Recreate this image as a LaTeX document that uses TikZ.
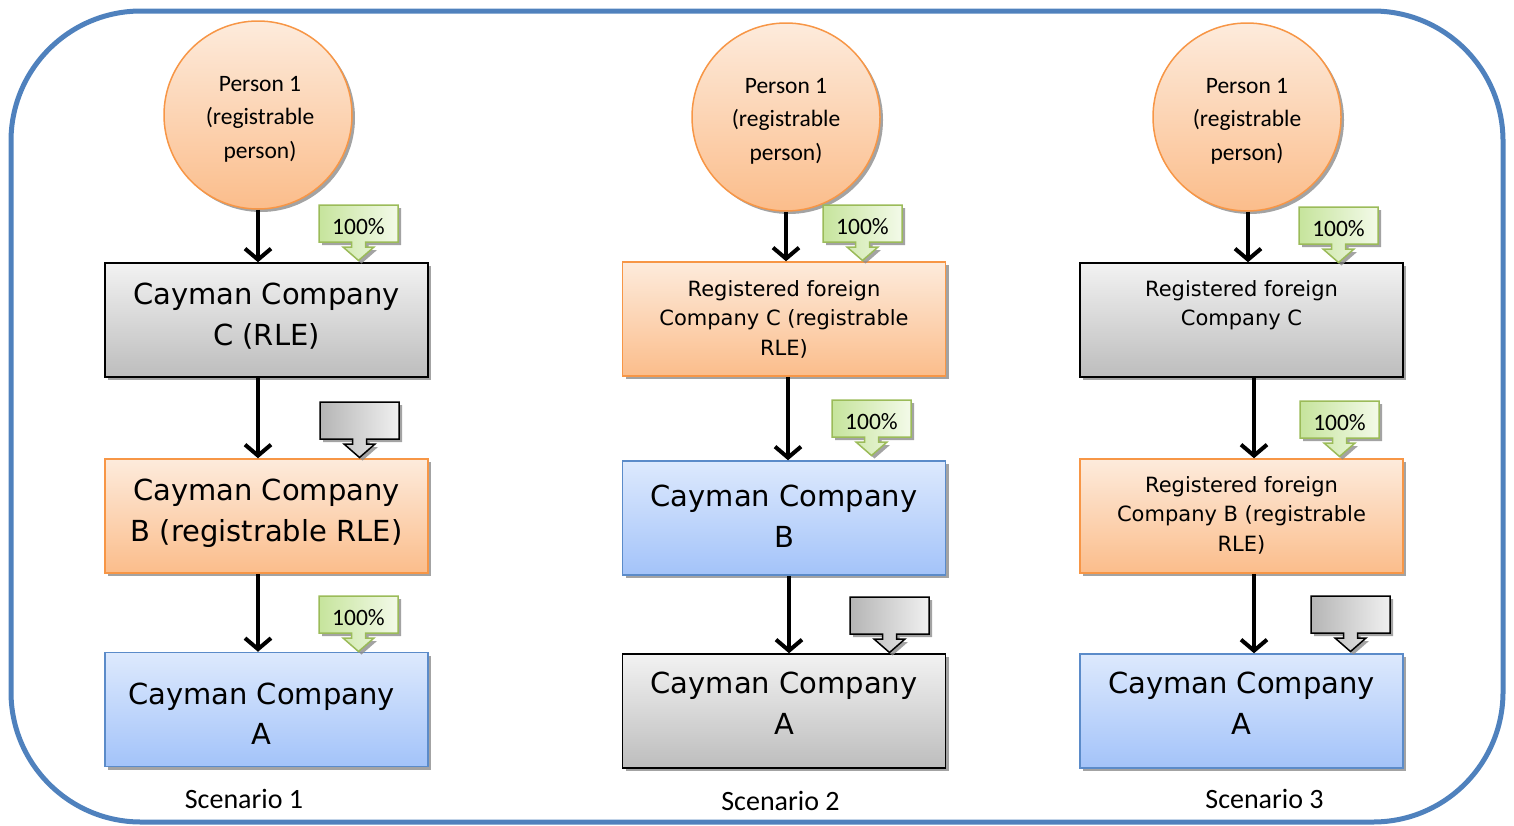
\documentclass[tikz,border=0pt]{standalone}
\usepackage{fontspec}
\setmainfont{Carlito}
\newfontfamily\boxfont{DejaVu Sans}
\usetikzlibrary{shadows,arrows.meta}
\definecolor{outerblue}{HTML}{4F81BD}
\definecolor{orBorder}{HTML}{F79646}
\definecolor{orTop}{HTML}{FDEBDC}
\definecolor{orBot}{HTML}{FBBD8B}
\definecolor{blBorder}{HTML}{5B8BC9}
\definecolor{blTop}{HTML}{DDE9FD}
\definecolor{blBot}{HTML}{A3C3F9}
\definecolor{grayTop}{HTML}{F2F2F2}
\definecolor{grayBot}{HTML}{BDBDBD}
\definecolor{grBorder}{HTML}{9BBB59}
\definecolor{grLeft}{HTML}{C6E49C}
\definecolor{grRight}{HTML}{F3FAE9}
\definecolor{gcLeft}{HTML}{B5B5B5}
\definecolor{gcRight}{HTML}{F0F0F0}
\tikzset{
 shd/.style={drop shadow={shadow xshift=3pt, shadow yshift=-3pt, fill=black!45, opacity=0.8}},
 company/.style={rectangle, minimum width=323pt, minimum height=114pt, inner sep=0pt, line width=1.5pt, shd},
 graybox/.style={company, draw=black, top color=grayTop, bottom color=grayBot},
 orangebox/.style={company, draw=orBorder, top color=orTop, bottom color=orBot},
 bluebox/.style={company, draw=blBorder, top color=blTop, bottom color=blBot},
 person/.style={circle, minimum size=188pt, inner sep=0pt, draw=orBorder, line width=1.5pt, top color=orTop, bottom color=orBot, shd},
 persontext/.style={inner sep=0pt, align=center, font=\fontsize{23.5}{33.5}\selectfont},
 bigtext/.style={inner sep=0pt, anchor=north, align=center, font=\boxfont\fontsize{29}{40.5}\selectfont},
 smalltext/.style={inner sep=0pt, anchor=north, align=center, font=\boxfont\fontsize{21}{29.5}\selectfont},
 conn/.style={line width=4pt, -{Straight Barb[length=11pt,width=26pt]}},
 greencall/.style={draw=grBorder, line width=1.5pt, left color=grLeft, right color=grRight, shd},
 graycall/.style={draw=black, line width=1.5pt, left color=gcLeft, right color=gcRight, shd},
 calltext/.style={font=\fontsize{23.5}{28}\selectfont, inner sep=0pt},
 scen/.style={font=\fontsize{28}{34}\selectfont, inner sep=0pt},
}
\newcommand\callout[5]{%
 \begin{scope}[shift={(#1,#2)}]
  \draw[#3] (0,0) -- (79,0) -- (79,37) -- (46.5,37) -- (46.5,42) -- (55,42) -- (39.5,55.5) -- (24,42) -- (32.5,42) -- (32.5,37) -- (0,37) -- cycle;
  \node[calltext] (#5) at (39.5,21.5) {#4};
 \end{scope}}
\begin{document}
\begin{tikzpicture}[x=1pt,y=-1pt]
\useasboundingbox (0,0) rectangle (1514,825);
\draw[line width=5pt, outerblue, rounded corners=130pt] (11,11) rectangle (1503,822);

% Scenario 1
\node[person] (P1) at (258,115) {};
\node[persontext] (tP1) at (260,119) {Person 1\\(registrable\\person)};
\node[graybox] (C1) at (266.5,320) {};
\node[orangebox] (B1) at (266.5,516) {};
\node[bluebox] (A1) at (266.5,709.5) {};
\node[bigtext, yshift=-21pt] (tC1) at (C1.north) {Cayman Company\\C (RLE)};
\node[bigtext, yshift=-21pt] (tB1) at (B1.north) {Cayman Company\\B (registrable RLE)};
\node[bigtext, yshift=-31pt, xshift=-5pt] (tA1) at (A1.north) {Cayman Company\\A};
\draw[conn] (P1.south) -- (P1.south |- C1.north);
\draw[conn] (C1.south -| P1) -- (B1.north -| P1);
\draw[conn] (B1.south -| P1) -- (A1.north -| P1);
\callout{319}{205}{greencall}{100\%}{k1a}
\callout{320}{402}{graycall}{}{k1b}
\callout{319}{596}{greencall}{100\%}{k1c}
\node[scen] (s1) at (244,799) {Scenario 1};

% Scenario 2
\node[person] (P2) at (786,117) {};
\node[persontext] (tP2) at (786,121) {Person 1\\(registrable\\person)};
\node[orangebox] (C2) at (784,319) {};
\node[bluebox] (B2) at (784,518) {};
\node[graybox] (A2) at (784,711) {};
\node[smalltext, yshift=-19pt] (tC2) at (C2.north) {Registered foreign\\Company C (registrable\\RLE)};
\node[bigtext, yshift=-25pt] (tB2) at (B2.north) {Cayman Company\\B};
\node[bigtext, yshift=-19pt] (tA2) at (A2.north) {Cayman Company\\A};
\draw[conn] (P2.south) -- (P2.south |- C2.north);
\draw[conn] ([xshift=2pt]C2.south -| P2) -- ([xshift=2pt]B2.north -| P2);
\draw[conn] ([xshift=3pt]B2.south -| P2) -- ([xshift=3pt]A2.north -| P2);
\callout{823}{205}{greencall}{100\%}{k2a}
\callout{832}{400}{greencall}{100\%}{k2b}
\callout{850}{597}{graycall}{}{k2c}
\node[scen] (s2) at (780.5,801) {Scenario 2};

% Scenario 3
\node[person] (P3) at (1247,117) {};
\node[persontext] (tP3) at (1247,121) {Person 1\\(registrable\\person)};
\node[graybox] (C3) at (1241.5,320) {};
\node[orangebox] (B3) at (1241.5,516) {};
\node[bluebox] (A3) at (1241.5,711) {};
\node[smalltext, yshift=-18pt] (tC3) at (C3.north) {Registered foreign\\Company C};
\node[smalltext, yshift=-18pt] (tB3) at (B3.north) {Registered foreign\\Company B (registrable\\RLE)};
\node[bigtext, yshift=-19pt] (tA3) at (A3.north) {Cayman Company\\A};
\draw[conn] ([xshift=1pt]P3.south) -- ([xshift=1pt]P3.south |- C3.north);
\draw[conn] ([xshift=7pt]C3.south -| P3) -- ([xshift=7pt]B3.north -| P3);
\draw[conn] ([xshift=7pt]B3.south -| P3) -- ([xshift=7pt]A3.north -| P3);
\callout{1299}{207}{greencall}{100\%}{k3a}
\callout{1300}{401}{greencall}{100\%}{k3b}
\callout{1311}{596}{graycall}{}{k3c}
\node[scen] (s3) at (1264.5,799) {Scenario 3};
\end{tikzpicture}
\end{document}
